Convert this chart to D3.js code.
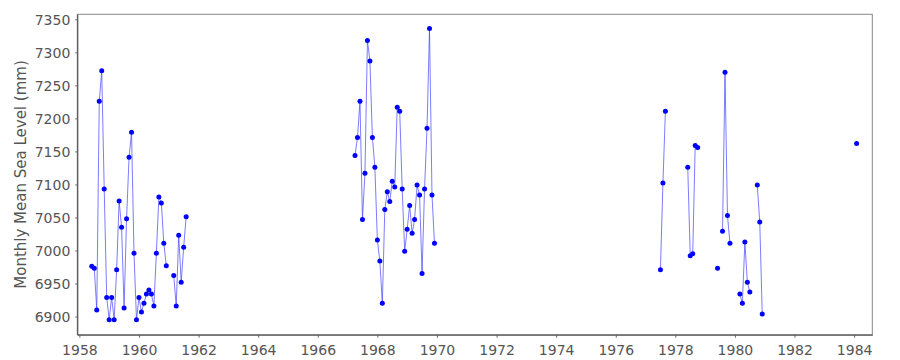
<!DOCTYPE html>
<html>
  <head>
    <meta charset="utf-8">
    <script src="https://d3js.org/d3.v7.min.js"></script>
    <style>
    body {
      margin: 0;
      background-color: #fff;
    }
    svg {
      display: block;
    }
    svg text {
      font-family: "DejaVu Sans", sans-serif;
    }
    .line {
      fill: none;
      stroke: #4444ff;
      stroke-opacity: 0.7;
      stroke-width: 1px;
    }
    .axis text {
      fill: #555;
      font-size: 14px;
    }
    </style>
  </head>
  <body>
    <script>
      // months (year-month) and monthly mean sea level in mm
      let months = [
        '1958-06','1958-07','1958-08','1958-09','1958-10','1958-11','1958-12',
        '1959-01','1959-02','1959-03','1959-04','1959-05','1959-06','1959-07','1959-08','1959-09','1959-10','1959-11','1959-12',
        '1960-01','1960-02','1960-03','1960-04','1960-05','1960-06','1960-07','1960-08','1960-09','1960-10','1960-11','1960-12',
        '1961-03','1961-04','1961-05','1961-06','1961-07','1961-08',
        '1967-04','1967-05','1967-06','1967-07','1967-08','1967-09','1967-10','1967-11','1967-12',
        '1968-01','1968-02','1968-03','1968-04','1968-05','1968-06','1968-07','1968-08','1968-09','1968-10','1968-11','1968-12',
        '1969-01','1969-02','1969-03','1969-04','1969-05','1969-06','1969-07','1969-08','1969-09','1969-10','1969-11','1969-12',
        '1977-07','1977-08','1977-09',
        '1978-06','1978-07','1978-08','1978-09','1978-10',
        '1979-06','1979-08','1979-09','1979-10','1979-11',
        '1980-03','1980-04','1980-05','1980-06','1980-07',
        '1980-10','1980-11','1980-12',
        '1984-02'
      ]
      let levels = [
        6976, 6973, 6910, 7226, 7272, 7093, 6929,
        6895, 6929, 6895, 6971, 7075, 7035, 6913, 7048, 7141, 7179, 6996, 6895,
        6929, 6907, 6920, 6934, 6940, 6934, 6916, 6996, 7081, 7072, 7011, 6977,
        6962, 6916, 7023, 6952, 7005, 7051,
        7144, 7171, 7226, 7047, 7117, 7318, 7287, 7171, 7126,
        7016, 6984, 6920, 7062, 7089, 7074, 7105, 7096, 7217, 7211, 7093, 6999,
        7032, 7068, 7026, 7047, 7099, 7084, 6965, 7093, 7185, 7336, 7084, 7011,
        6971, 7102, 7211,
        7126, 6992, 6995, 7159, 7156,
        6973, 7029, 7270, 7053, 7011,
        6934, 6920, 7013, 6952, 6937,
        7099, 7043, 6904,
        7162
      ]
      let yTicks = [6900, 6950, 7000, 7050, 7100, 7150, 7200, 7250, 7300, 7350]
      let xTicks = d3.range(1958, 1985, 2)

      let w = 900
      let h = 360
      let m = {top: 14.3, right: 27.7, bottom: 25.3, left: 77.3}

      let data = months.map((s, i) => {
        let [yy, mm] = s.split('-').map(Number)
        return { idx: yy * 12 + mm - 1, t: yy + (mm - 1) / 12, v: levels[i] }
      })

      // split into runs of consecutive months
      let runs = []
      data.forEach((d, i) => {
        if (i === 0 || d.idx - data[i - 1].idx !== 1) runs.push([])
        runs[runs.length - 1].push(d)
      })

      let svg = d3.select('body').append('svg')
                  .attr('width', w)
                  .attr('height', h)

      let x = d3.scaleLinear()
                .domain([1957.93, 1984.61])
                .range([m.left, w - m.right])
      let y = d3.scaleLinear()
                .domain([6872.5, 7357.6])
                .range([h - m.bottom, m.top])

      // frame
      svg.append('rect')
         .attr('x', m.left)
         .attr('y', m.top)
         .attr('width', w - m.left - m.right)
         .attr('height', h - m.top - m.bottom)
         .attr('fill', 'none')
         .attr('stroke', '#888')

      let valueline = d3.line()
                        .x(d => x(d.t))
                        .y(d => y(d.v))

      svg.selectAll('.line')
         .data(runs.filter(r => r.length > 1))
         .enter()
         .append('path')
         .attr('class', 'line')
         .attr('d', valueline)

      svg.selectAll('.dot')
         .data(data)
         .enter()
         .append('circle')
         .attr('class', 'dot')
         .attr('r', 2.5)
         .attr('cx', d => x(d.t))
         .attr('cy', d => y(d.v))
         .style('fill', '#0000ff')

      let xAxis = svg.append('g')
                     .attr('class', 'axis')
                     .attr('transform', `translate(0, ${h - m.bottom})`)
                     .call(d3.axisBottom(x).tickValues(xTicks).tickFormat(d3.format('d')).tickSizeInner(3).tickSizeOuter(0))
      let yAxis = svg.append('g')
                     .attr('class', 'axis')
                     .attr('transform', `translate(${m.left}, 0)`)
                     .call(d3.axisLeft(y).tickValues(yTicks).tickFormat(d3.format('d')).tickSizeInner(2).tickSizeOuter(0).tickPadding(5))

      svg.selectAll('.axis .domain').attr('stroke', '#444')
      svg.selectAll('.axis .tick line').attr('stroke', '#666')
      xAxis.selectAll('text').attr('dy', '1.05em')
      yAxis.selectAll('text').attr('dy', '0.35em')

      svg.append('text')
         .attr('transform', `translate(21, ${(m.top + h - m.bottom) / 2}) rotate(-90)`)
         .attr('text-anchor', 'middle')
         .attr('dy', '0.35em')
         .style('font-size', '15px')
         .style('fill', '#555')
         .text('Monthly Mean Sea Level (mm)')
    </script>
  </body>
</html>
